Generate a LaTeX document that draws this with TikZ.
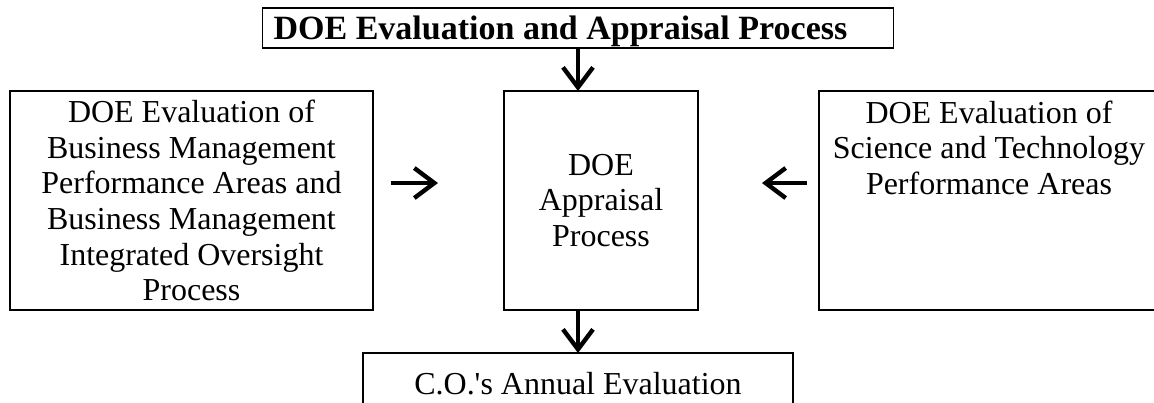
\documentclass[tikz,border=0pt]{standalone}
\usepackage{fontspec}
\setmainfont{Liberation Serif}
\usetikzlibrary{positioning,arrows.meta}
\begin{document}
\begin{tikzpicture}[
        node distance=0.86cm,
        box/.style={rectangle, minimum height=4.38cm, align=center, draw=black, line width=0.85pt, inner sep=0pt, outer sep=0pt, font=\fontsize{18.2}{20.3}\selectfont},
        arrow/.style={line width=2.5pt,-{Straight Barb[length=0.4cm,width=0.6cm]}}
    ]
        \useasboundingbox (-12.02,-4.03) rectangle (11.06,4.01);

        % Appraisal
        \node (appraisal) [box, minimum width=3.88cm] {DOE\\Appraisal\\Process};

        % Evaluations
        \node (business) [box, minimum width=7.26cm, left=2.62cm of appraisal] {DOE Evaluation of\\Business Management\\Performance Areas and\\Business Management\\Integrated Oversight\\Process};
        \node (science) [box, minimum width=6.8cm, text depth=2.12cm, right=2.42cm of appraisal] {DOE Evaluation of\\Science and Technology\\Performance Areas};

        % Process and result
        \node (process) [box, minimum width=12.62cm, minimum height=0.8cm, text depth=0pt, font=\fontsize{19.35}{21}\selectfont\bfseries, above=of appraisal, xshift=-0.46cm] {DOE Evaluation and Appraisal Process\hspace*{0.7cm}};
        \node (annual) [box, minimum width=8.6cm, minimum height=1.24cm, below=of appraisal, xshift=-0.46cm] {C.O.\textquotesingle s Annual Evaluation};

        % Connections
        \draw[arrow] (process.south) -- (process.south |- appraisal.north);
        \draw[arrow] (appraisal.south -| annual.north) -- (annual.north);
        \draw[arrow] ([xshift=0.36cm,yshift=0.35cm]business.east) -- ([xshift=-1.32cm,yshift=0.35cm]appraisal.west);
        \draw[arrow] ([xshift=-0.24cm,yshift=0.35cm]science.west) -- ([xshift=1.28cm,yshift=0.35cm]appraisal.east);
    \end{tikzpicture}
\end{document}
